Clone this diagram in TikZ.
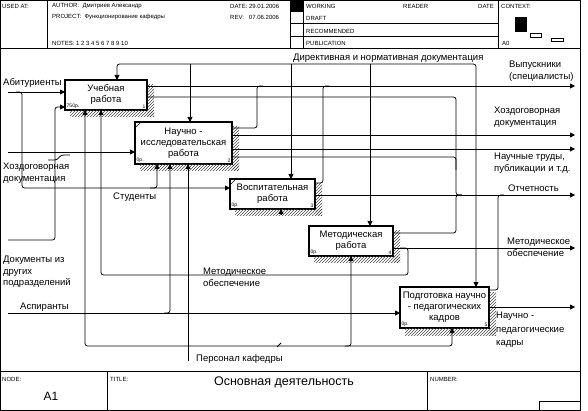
\documentclass[tikz,border=0pt]{standalone}
\usepackage{fontspec}
\setmainfont{Liberation Sans}
\usetikzlibrary{arrows.meta,patterns}

\tikzset{
  actbox/.style={draw, line width=1.1pt, fill=white, align=center, inner sep=1pt,
    outer sep=0pt, anchor=north west, font=\fontsize{9.5}{11}\selectfont},
  flow/.style={line width=0.75pt, rounded corners=2.5pt, -{Triangle[length=5pt,width=5pt]}},
  wire/.style={line width=0.75pt, rounded corners=2.5pt},
  lbl/.style={inner sep=0pt, align=left, font=\fontsize{9.5}{11.5}\selectfont},
  hdr/.style={inner sep=0pt, anchor=west, font=\fontsize{6}{7}\selectfont},
  tag/.style={inner sep=1.5pt, font=\fontsize{5}{5}\selectfont},
  hatch/.style={pattern=north east lines, pattern color=black!70},
  rule/.style={line width=1pt},
}

\begin{document}
\begin{tikzpicture}[x=1pt,y=-1pt]
\useasboundingbox (0,0) rectangle (588,411);

% рамка бланка
\draw[rule] (0.5,0.5) rectangle (580,410.5);
\draw[rule] (0,49) -- (580,49);
\draw[rule] (0,371) -- (580,371);
\draw[rule] (47,0) -- (47,49);
\draw[rule] (290,0) -- (290,49);
\draw[rule] (303,0) -- (303,49);
\draw[rule] (498,0) -- (498,49);
\draw[rule] (290,12) -- (303,12);
\draw[rule] (290,24) -- (498,24);
\draw[rule] (290,37) -- (498,37);
\fill (290,0) rectangle (303,12);
\fill (515,17) rectangle (527,32);
\draw[line width=0.8pt] (530,33) rectangle (541,37);
\draw[line width=0.8pt] (551,38) rectangle (563,41);
\draw[rule] (107,371) -- (107,410);
\draw[rule] (427,371) -- (427,410);
\draw[rule] (539,401) rectangle (580,410);

% шапка
\node[hdr] (h-used) at (2,6) {USED AT:};
\node[hdr] (h-author) at (52,6) {AUTHOR:\ \ Дмитриев Александр};
\node[hdr] (h-project) at (52,17) {PROJECT:\ \ Функционирование кафедры};
\node[hdr] (h-notes) at (52,43) {NOTES:\ 1\ 2\ 3\ 4\ 5\ 6\ 7\ 8\ 9\ 10};
\node[hdr] (h-date) at (230,6) {DATE:\ 29.01.2006};
\node[hdr] (h-rev) at (230,17) {REV:\ \ \ 07.06.2006};
\node[hdr] (h-working) at (306,6) {WORKING};
\node[hdr] (h-reader) at (403,6) {READER};
\node[hdr] (h-rdate) at (478,6) {DATE};
\node[hdr] (h-draft) at (306,18) {DRAFT};
\node[hdr] (h-recom) at (306,31) {RECOMMENDED};
\node[hdr] (h-publ) at (306,43) {PUBLICATION};
\node[hdr] (h-context) at (501,6) {CONTEXT:};
\node[hdr] (h-a0) at (502,43) {A0};

% подвал
\node[hdr] (f-node) at (2,379) {NODE:};
\node[hdr] (f-title) at (110,379) {TITLE:};
\node[hdr] (f-number) at (430,379) {NUMBER:};
\node[inner sep=0pt, font=\fontsize{12}{13}\selectfont] (f-a1) at (51,396) {A1};
\node[inner sep=0pt, font=\fontsize{12.5}{13}\selectfont] (f-name) at (284,382) {Основная деятельность};

% блоки
\node[actbox, minimum width=82pt, minimum height=30pt] (ucheb) at (65,80) {Учебная\\работа};
\node[actbox, minimum width=97pt, minimum height=42pt] (nauch) at (135,122) {Научно -\\исследовательская\\работа};
\node[actbox, minimum width=85pt, minimum height=30pt] (vosp) at (230,179) {Воспитательная\\работа};
\node[actbox, minimum width=84pt, minimum height=30pt] (metod) at (309,226) {Методическая\\работа};
\node[actbox, minimum width=89pt, minimum height=41pt] (podg) at (400,287) {Подготовка научно\\- педагогических\\кадров};

\node[tag, anchor=south west] (t-ucheb) at (ucheb.south west) {750р.};
\node[tag, anchor=south east] (n-ucheb) at (ucheb.south east) {1};
\foreach \b/\n in {nauch/2, vosp/3, metod/4, podg/5} {
  \node[tag, anchor=south west] (t-\b) at (\b.south west) {0р.};
  \node[tag, anchor=south east] (n-\b) at (\b.south east) {\n};
}
\foreach \b in {nauch, vosp} {
  \draw[line width=0.5pt] ([xshift=1pt,yshift=-5pt]\b.north west) -- ([xshift=5pt,yshift=-1pt]\b.north west);
}

% тени
\foreach \b in {ucheb, nauch, vosp, metod, podg} {
  \fill[hatch] ([xshift=0.6pt,yshift=-5pt]\b.north east) rectangle ([xshift=7pt,yshift=-7pt]\b.south east);
  \fill[hatch] ([xshift=5pt,yshift=-0.6pt]\b.south west) rectangle ([xshift=7pt,yshift=-7pt]\b.south east);
}

% концы стрелок
\coordinate (abit) at (8,92);
\coordinate (xdin) at (8,152);
\coordinate (docin) at (8,240);
\coordinate (asp) at (8,313);
\coordinate (pers) at (188,361);
\coordinate (dir) at (293,64);
\coordinate (vyp) at (575,86);
\coordinate (xdout) at (575,135);
\coordinate (trudy) at (575,149);
\coordinate (otch) at (575,195);
\coordinate (metout) at (575,248);
\coordinate (kadry) at (575,307);

% входы
\draw[flow] (abit) -- ([yshift=-12pt]ucheb.north west);
\draw[flow] (16,92) -| (22,150) |- ([yshift=-9pt]vosp.north west);
\draw[flow] (150,188) -| ([xshift=22pt]nauch.south west);
\draw[flow] (xdin) -- ([yshift=-30pt]nauch.north west);
\draw[wire] (48,160) -- (57,160) -- (61,155) -- (70,155);
\draw[flow] (docin) -| (55,150) |- ([yshift=-27pt]ucheb.north west);
\draw[flow] (asp) -- ([yshift=-26pt]podg.north west);
\draw[flow] (164,313) -| ([xshift=35pt]nauch.south west);

% механизмы
\draw[flow] (pers) -- ([xshift=53pt]nauch.south west);
\draw[flow] (pers) ++(0,-15) -| ([xshift=20pt]ucheb.south west);
\draw[flow] (188,346) -| ([xshift=42pt]metod.south west);
\draw[flow] (345,346) -| ([xshift=52pt]podg.south west);
\draw[flow] ([xshift=51pt,yshift=-6pt]vosp.south west) -- ([xshift=51pt]vosp.south west);
\draw[wire] (277,347) -- (281,343);

% управление
\draw[flow] (dir) -| ([xshift=52pt]ucheb.north west);
\draw[flow] (dir) -| ([xshift=76pt]podg.north west);
\draw[flow] (190,64) -- ([xshift=55pt]nauch.north west);
\draw[flow] (291,64) -- ([xshift=61pt]vosp.north west);
\draw[flow] (370,64) -- ([xshift=61pt]metod.north west);

% выходы
\draw[flow] ([yshift=-6pt]ucheb.north east) -- (vyp);
\draw[wire] ([yshift=-6pt]nauch.north east) -| (257,86) -- (263,86);
\draw[wire] ([yshift=-4pt]vosp.north east) -| (323,86) -- (329,86);
\draw[flow] ([yshift=-13pt]nauch.north east) -- (xdout);
\draw[flow] ([yshift=-27pt]nauch.north east) -- (trudy);
\draw[wire] ([yshift=-17pt]ucheb.north east) -| (456,195) -- (462,195);
\draw[wire] ([yshift=-35pt]nauch.north east) -| (456,170);
\draw[flow] ([yshift=-16pt]vosp.north east) -- (otch);
\draw[wire] ([yshift=-7pt]metod.north east) -| (456,195) -- (462,195);
\draw[wire] ([yshift=-3pt]podg.north east) -| (498,195) -- (504,195);
\draw[flow] ([yshift=-22pt]metod.north east) -- (metout);
\draw[flow] (400,248) -| (408,275) -| ([xshift=36pt]ucheb.south west);
\draw[flow] ([yshift=-20pt]podg.north east) -- (kadry);

% подписи
\node[lbl, anchor=west] (l-abit) at (3,83) {Абитуриенты};
\node[lbl, anchor=north west] (l-xdin) at (3,163) {Хоздоговорная\\документация};
\node[lbl, anchor=north west] (l-docin) at (3,256) {Документы из\\других\\подразделений};
\node[lbl, anchor=west] (l-asp) at (20,307) {Аспиранты};
\node[lbl, anchor=west] (l-stud) at (113,197) {Студенты};
\node[lbl, anchor=north west] (l-metloop) at (203,268) {Методическое\\обеспечение};
\node[lbl, anchor=west] (l-pers) at (196,359) {Персонал кафедры};
\node[lbl, anchor=west] (l-dir) at (293,58) {Директивная и нормативная документация};
\node[lbl, anchor=north west] (l-vyp) at (509,61) {Выпускники\\(специалисты)};
\node[lbl, anchor=north west] (l-xdout) at (494,107) {Хоздоговорная\\документация};
\node[lbl, anchor=north west] (l-trudy) at (494,153) {Научные труды,\\публикации и т.д.};
\node[lbl, anchor=west] (l-otch) at (508,188) {Отчетность};
\node[lbl, anchor=north west] (l-metout) at (507,238) {Методическое\\обеспечение};
\node[lbl, anchor=north west, font=\fontsize{9.5}{13.5}\selectfont] (l-kadry) at (496,312) {Научно -\\педагогические\\кадры};

\end{tikzpicture}
\end{document}
